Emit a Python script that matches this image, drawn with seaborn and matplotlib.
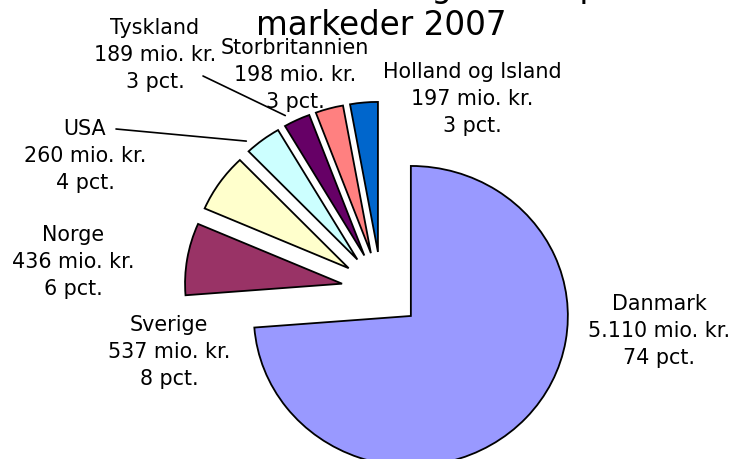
import numpy as np
import matplotlib
matplotlib.use("Agg")
import matplotlib.pyplot as plt
import seaborn as sns

# ---- data ----
countries = ["Danmark", "Sverige", "Norge", "USA", "Tyskland",
             "Storbritannien", "Holland og Island"]
values_mio = [5110, 537, 436, 260, 189, 198, 197]
colors = ["#9999FF", "#993366", "#FFFFCC", "#CCFFFF", "#660066",
          "#FF8080", "#0066CC"]
title_lines = ["Samlet omsætning fordelt på", "markeder 2007"]

# ---- layout (pixel based) ----
W, H = 732, 460
YS = 157 / 150          # slight horizontal stretch of the pie, as in reference

sns.set_theme(style="white")
plt.rcParams["font.family"] = ["DejaVu Sans"]

fig = plt.figure(figsize=(W / 100, H / 100), dpi=100)
ax = fig.add_axes([0, 0, 1, 1])


def py(y):
    return (H - y) * YS


R = 157
CENTER = (381.5, py(291))
EXPLODE = 40

wedges, _ = ax.pie(values_mio, colors=sns.color_palette(colors),
                   startangle=90, counterclock=False, radius=R,
                   center=CENTER, explode=[EXPLODE] * len(values_mio),
                   wedgeprops=dict(edgecolor="black", linewidth=1.3))
ax.set_aspect("auto")
ax.set_xlim(0, W)
ax.set_ylim(0, H * YS)
ax.axis("off")

total = sum(values_mio)


def fmt(v):
    return f"{v:,}".replace(",", ".")


# label positions: (center x, last-line baseline y) in pixels
label_pos = {
    "Danmark": (659, 364),
    "Sverige": (169, 385),
    "Norge": (73, 295),
    "USA": (85, 189),
    "Tyskland": (155, 88),
    "Storbritannien": (295, 108),
    "Holland og Island": (472, 132),
}
FS = 14.9
for name, v in zip(countries, values_mio):
    pct = int(round(v / total * 100))
    x, y = label_pos[name]
    ax.text(x, py(y), f"{name}\n{fmt(v)} mio. kr.\n{pct} pct.",
            ha="center", va="baseline", fontsize=FS, linespacing=1.44,
            multialignment="center", color="black")

# leader lines
leader_start = {"Tyskland": (203, 77), "USA": (116, 130)}
for name, (sx, sy) in leader_start.items():
    w = wedges[countries.index(name)]
    ang = np.deg2rad(w.theta2 - 2)
    ex = w.center[0] + 1.06 * w.r * np.cos(ang)
    ey = w.center[1] + 1.06 * w.r * np.sin(ang)
    ax.annotate("", xy=(ex, ey), xytext=(sx, py(sy)),
                arrowprops=dict(arrowstyle="-", lw=1.2, color="black",
                                shrinkA=0, shrinkB=0))

# title (first line mostly outside the canvas, as in the reference)
ax.text(381.5, py(-3), title_lines[0], ha="center", va="baseline",
        fontsize=23.5, color="black", clip_on=False)
ax.text(381.5, py(35), title_lines[1], ha="center", va="baseline",
        fontsize=23.5, color="black", clip_on=False)

fig.savefig("out.png", dpi=100, facecolor="white")
